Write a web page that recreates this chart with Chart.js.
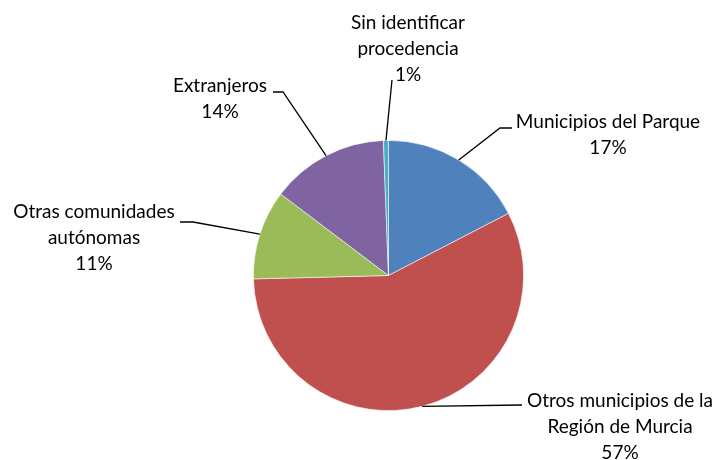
<!DOCTYPE html>
<html>
<head>
<meta charset="utf-8">
<script src="https://cdn.jsdelivr.net/npm/chart.js@4.4.1/dist/chart.umd.min.js"></script>
<style>
    html, body { margin: 0; padding: 0; background: #fff; }
    #wrap { width: 719px; height: 460px; }
</style>
</head>
<body>
<div id="wrap"><canvas id="pieChart" width="719" height="460"></canvas></div>
<script>
// Datos (porcentaje de visitantes por procedencia)
const categories = [
    ['Municipios del Parque'],
    ['Otros municipios de la', 'Región de Murcia'],
    ['Otras comunidades', 'autónomas'],
    ['Extranjeros'],
    ['Sin identificar', 'procedencia']
];
const values = [17.4, 57.2, 10.7, 14.1, 0.6];
const colors = ['#4F81BD', '#C0504D', '#9BBB59', '#8064A2', '#4BACC6'];

// Posición de cada etiqueta: centro x, línea base de la primera línea, y fin de la guía
const labelLayout = [
    { x: 608, y: 128, elbow: [500, 128], end: [512, 128] },
    { x: 620, y: 407, elbow: null, end: [522, 405] },
    { x: 94, y: 218, elbow: [193, 222], end: [180, 222] },
    { x: 220, y: 92, elbow: [283, 92], end: [273, 92] },
    { x: 408, y: 29, elbow: null, end: [392, 80] }
];

const FONT = '19px Lato, "Open Sans", sans-serif';
const LINE_H = 26;

const labelsPlugin = {
    id: 'pieLabels',
    afterDraw(chart) {
        const ctx = chart.ctx;
        const meta = chart.getDatasetMeta(0);
        const total = values.reduce((s, v) => s + v, 0);
        ctx.save();
        ctx.strokeStyle = '#000';
        ctx.lineWidth = 1.3;
        ctx.fillStyle = '#000';
        ctx.font = FONT;
        ctx.textAlign = 'center';
        ctx.textBaseline = 'alphabetic';
        meta.data.forEach((arc, i) => {
            const p = arc.getProps(['x', 'y', 'startAngle', 'endAngle', 'outerRadius'], true);
            const mid = (p.startAngle + p.endAngle) / 2;
            const sx = p.x + Math.cos(mid) * p.outerRadius;
            const sy = p.y + Math.sin(mid) * p.outerRadius;
            const lay = labelLayout[i];
            ctx.beginPath();
            ctx.moveTo(sx, sy);
            if (lay.elbow) ctx.lineTo(lay.elbow[0], lay.elbow[1]);
            ctx.lineTo(lay.end[0], lay.end[1]);
            ctx.stroke();
            const lines = categories[i].concat([Math.round(values[i] / total * 100) + '%']);
            lines.forEach((t, j) => ctx.fillText(t, lay.x, lay.y + j * LINE_H));
        });
        ctx.restore();
    }
};

new Chart(document.getElementById('pieChart'), {
    type: 'pie',
    data: {
        labels: categories.map(c => c.join(' ')),
        datasets: [{
            data: values,
            backgroundColor: colors,
            borderColor: 'rgba(255,255,255,0.7)',
            borderWidth: 0.8
        }]
    },
    options: {
        responsive: false,
        animation: false,
        layout: { padding: { left: 253, right: 195, top: 140, bottom: 49 } },
        plugins: {
            legend: { display: false },
            tooltip: { enabled: false }
        }
    },
    plugins: [labelsPlugin]
});
</script>
</body>
</html>
